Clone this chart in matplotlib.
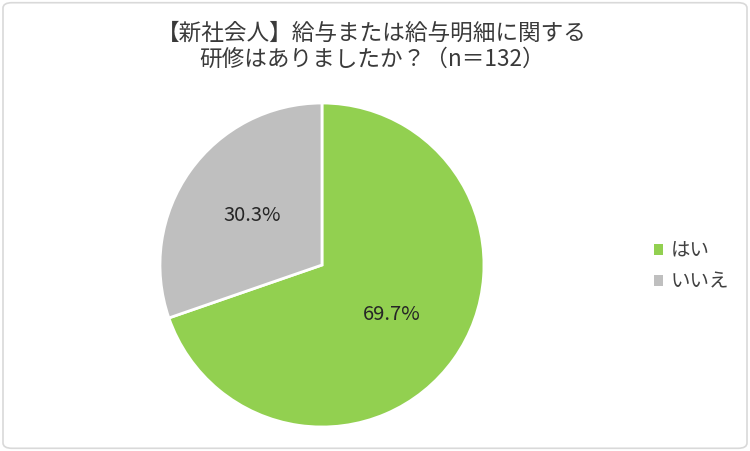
import matplotlib.pyplot as plt
from matplotlib.patches import FancyBboxPatch, Patch

plt.rcParams['font.family'] = ['Noto Sans CJK JP', 'DejaVu Sans']

# Data
labels = ["はい", "いいえ"]
values = [69.7, 30.3]
colours = ["#92D050", "#BFBFBF"]
title = "【新社会人】給与または給与明細に関する\n研修はありましたか？（n＝132）"

fig = plt.figure(figsize=(7.5, 4.51), dpi=100)

# rounded frame around the chart
frame = FancyBboxPatch((0.004, 0.006), 0.992, 0.988, boxstyle="round,pad=0,rounding_size=0.012",
                       transform=fig.transFigure, facecolor="white", edgecolor="#D9D9D9",
                       linewidth=1.2, zorder=-1)
fig.patches.append(frame)

ax = fig.add_axes([0.2133, 0.0532, 0.432, 0.7184])
wedges, texts, autotexts = ax.pie(
    values,
    colors=colours,
    startangle=90,
    counterclock=False,
    autopct="%.1f%%",
    pctdistance=0.53,
    wedgeprops=dict(edgecolor="white", linewidth=2),
    textprops=dict(fontsize=14.5, color="#262626"),
)
ax.set_xlim(-1, 1)
ax.set_ylim(-1, 1)
ax.set_aspect("equal")

fig.text(0.496, 0.952, title, ha="center", va="top", fontsize=16.3,
         color="#3A3A3A", linespacing=1.2)

handles = [Patch(facecolor=c, edgecolor="none") for c in colours]
fig.legend(handles, labels, loc="center left", bbox_to_anchor=(0.848, 0.41),
           frameon=False, fontsize=14, handlelength=0.5, handleheight=0.5,
           handletextpad=0.4, labelspacing=0.5, labelcolor="#404040")

fig.savefig("out.png", dpi=100)
